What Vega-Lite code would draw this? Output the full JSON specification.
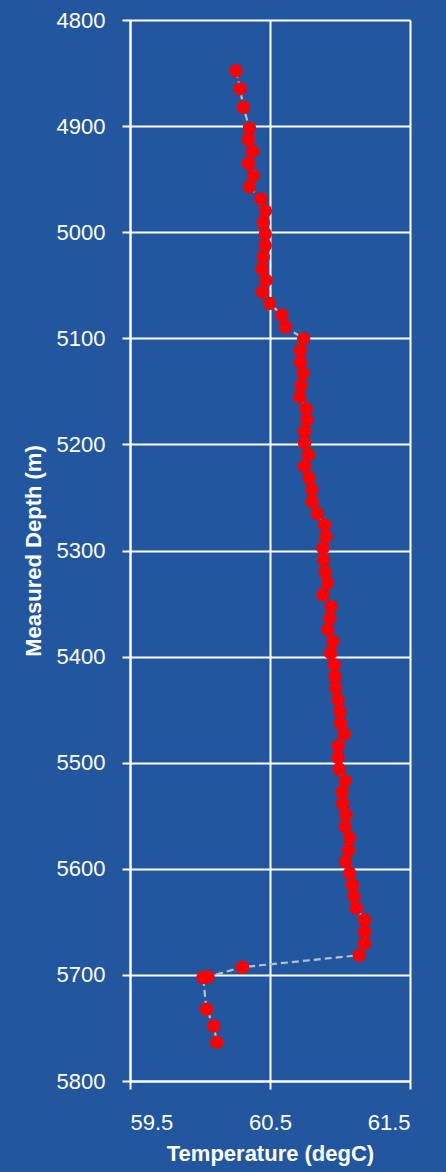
{
  "$schema": "https://vega.github.io/schema/vega-lite/v6.json",
  "width": 280,
  "height": 1061,
  "autosize": {"type": "none"},
  "padding": {"left": 130, "top": 20, "right": 36, "bottom": 91},
  "background": "#2257a0",
  "config": {
    "view": {"stroke": null},
    "font": "Liberation Sans",
    "axis": {
      "domainColor": "white",
      "domainWidth": 2,
      "tickColor": "white",
      "tickWidth": 2,
      "tickSize": 8,
      "gridColor": "white",
      "gridWidth": 2,
      "gridOpacity": 1,
      "labelColor": "white",
      "labelFontSize": 22,
      "labelFontWeight": "normal",
      "labelFont": "Liberation Sans",
      "titleColor": "white",
      "titleFont": "Liberation Sans",
      "titleFontWeight": "bold"
    }
  },
  "data": {
    "values": [
      {"temp": 60.258, "depth": 4847.9},
      {"temp": 60.287, "depth": 4864.9},
      {"temp": 60.310, "depth": 4882.2},
      {"temp": 60.353, "depth": 4902.0},
      {"temp": 60.346, "depth": 4912.7},
      {"temp": 60.375, "depth": 4923.7},
      {"temp": 60.346, "depth": 4935.0},
      {"temp": 60.382, "depth": 4946.3},
      {"temp": 60.353, "depth": 4957.3},
      {"temp": 60.435, "depth": 4968.6},
      {"temp": 60.468, "depth": 4979.9},
      {"temp": 60.452, "depth": 4990.9},
      {"temp": 60.466, "depth": 5001.6},
      {"temp": 60.466, "depth": 5012.6},
      {"temp": 60.452, "depth": 5023.7},
      {"temp": 60.444, "depth": 5034.6},
      {"temp": 60.473, "depth": 5045.4},
      {"temp": 60.446, "depth": 5056.3},
      {"temp": 60.498, "depth": 5067.1},
      {"temp": 60.585, "depth": 5078.0},
      {"temp": 60.611, "depth": 5089.3},
      {"temp": 60.740, "depth": 5100.3},
      {"temp": 60.718, "depth": 5111.4},
      {"temp": 60.718, "depth": 5122.3},
      {"temp": 60.737, "depth": 5133.1},
      {"temp": 60.723, "depth": 5144.4},
      {"temp": 60.714, "depth": 5155.3},
      {"temp": 60.759, "depth": 5166.3},
      {"temp": 60.764, "depth": 5176.7},
      {"temp": 60.747, "depth": 5187.7},
      {"temp": 60.747, "depth": 5198.7},
      {"temp": 60.775, "depth": 5209.7},
      {"temp": 60.747, "depth": 5220.7},
      {"temp": 60.780, "depth": 5231.7},
      {"temp": 60.800, "depth": 5242.7},
      {"temp": 60.802, "depth": 5254.0},
      {"temp": 60.838, "depth": 5265.1},
      {"temp": 60.890, "depth": 5275.7},
      {"temp": 60.900, "depth": 5286.7},
      {"temp": 60.878, "depth": 5297.7},
      {"temp": 60.883, "depth": 5308.7},
      {"temp": 60.895, "depth": 5320.5},
      {"temp": 60.911, "depth": 5330.7},
      {"temp": 60.878, "depth": 5341.7},
      {"temp": 60.936, "depth": 5352.8},
      {"temp": 60.928, "depth": 5363.7},
      {"temp": 60.914, "depth": 5374.7},
      {"temp": 60.950, "depth": 5385.8},
      {"temp": 60.933, "depth": 5396.7},
      {"temp": 60.959, "depth": 5407.7},
      {"temp": 60.964, "depth": 5418.8},
      {"temp": 60.969, "depth": 5429.7},
      {"temp": 60.986, "depth": 5440.7},
      {"temp": 61.000, "depth": 5451.8},
      {"temp": 61.004, "depth": 5462.7},
      {"temp": 61.031, "depth": 5473.1},
      {"temp": 60.988, "depth": 5484.2},
      {"temp": 60.986, "depth": 5495.2},
      {"temp": 60.995, "depth": 5506.1},
      {"temp": 61.038, "depth": 5517.1},
      {"temp": 61.016, "depth": 5527.7},
      {"temp": 61.019, "depth": 5538.5},
      {"temp": 61.043, "depth": 5549.1},
      {"temp": 61.038, "depth": 5560.2},
      {"temp": 61.069, "depth": 5571.1},
      {"temp": 61.062, "depth": 5582.4},
      {"temp": 61.040, "depth": 5593.2},
      {"temp": 61.069, "depth": 5604.1},
      {"temp": 61.088, "depth": 5615.2},
      {"temp": 61.100, "depth": 5626.2},
      {"temp": 61.117, "depth": 5637.1},
      {"temp": 61.176, "depth": 5648.1},
      {"temp": 61.176, "depth": 5659.2},
      {"temp": 61.176, "depth": 5670.1},
      {"temp": 61.138, "depth": 5681.4},
      {"temp": 60.303, "depth": 5692.7},
      {"temp": 60.057, "depth": 5701.8},
      {"temp": 60.022, "depth": 5702.4},
      {"temp": 60.046, "depth": 5732.4},
      {"temp": 60.099, "depth": 5748.1},
      {"temp": 60.120, "depth": 5763.5}
    ]
  },
  "encoding": {
    "x": {
      "field": "temp",
      "type": "quantitative",
      "scale": {"domain": [59.5, 61.5], "nice": false, "zero": false},
      "axis": {
        "values": [59.5, 60.5, 61.5],
        "format": ".1f",
        "title": "Temperature (degC)",
        "titleFontSize": 22,
        "labelPadding": 23,
        "titlePadding": 10
      }
    },
    "y": {
      "field": "depth",
      "type": "quantitative",
      "scale": {"domain": [4800, 5800], "reverse": true, "nice": false, "zero": false},
      "axis": {
        "values": [4800, 4900, 5000, 5100, 5200, 5300, 5400, 5500, 5600, 5700, 5800],
        "format": "d",
        "title": "Measured Depth (m)",
        "titleFontSize": 22,
        "labelPadding": 17,
        "titlePadding": 11
      }
    }
  },
  "layer": [
    {
      "mark": {"type": "line", "color": "#b8c0cc", "strokeWidth": 2.2, "strokeDash": [7, 4]},
      "encoding": {"order": {"field": "depth", "type": "quantitative"}}
    },
    {
      "mark": {"type": "circle", "color": "#ff0000", "opacity": 1, "size": 180}
    }
  ]
}
